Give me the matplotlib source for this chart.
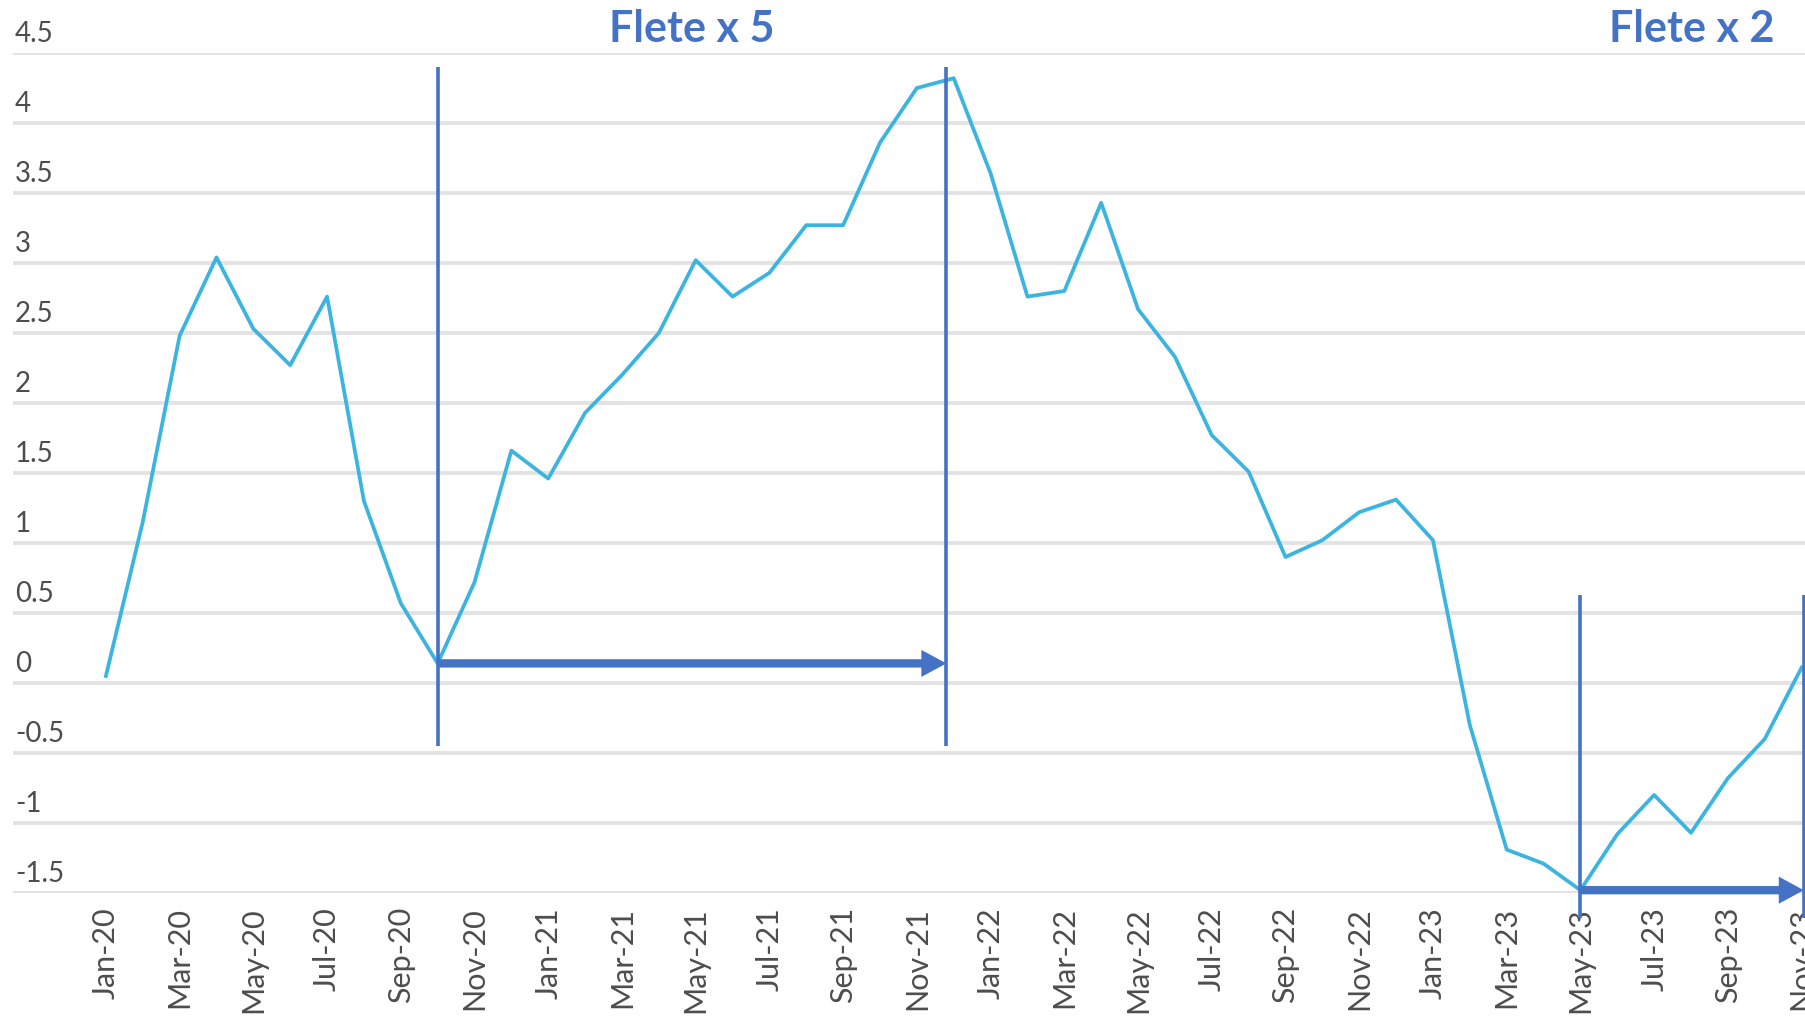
import numpy as np
import pandas as pd
import matplotlib
matplotlib.use('Agg')
import matplotlib.pyplot as plt
from matplotlib.transforms import ScaledTranslation
from matplotlib.patches import FancyArrowPatch

# monthly series, Jan-20 .. Nov-23
months = pd.date_range('2020-01-01', periods=47, freq='MS').strftime('%b-%y').tolist()
values = [0.05, 1.15, 2.48, 3.04, 2.53, 2.27, 2.76, 1.30, 0.57, 0.14,
          0.72, 1.66, 1.46, 1.93, 2.20, 2.50, 3.02, 2.76, 2.93, 3.27,
          3.27, 3.86, 4.25, 4.32, 3.64, 2.76, 2.80, 3.43, 2.67, 2.33,
          1.77, 1.51, 0.90, 1.02, 1.22, 1.31, 1.02, -0.30, -1.19, -1.29,
          -1.48, -1.08, -0.80, -1.07, -0.68, -0.40, 0.11]

y_ticks = [-1.5, -1, -0.5, 0, 0.5, 1, 1.5, 2, 2.5, 3, 3.5, 4, 4.5]
y_labels = ['-1.5', '-1', '-0.5', '0', '0.5', '1', '1.5', '2', '2.5', '3', '3.5', '4', '4.5']

# marked periods: start month index, end position, label, bracket top / bottom
period_start = [9, 40]
period_end = [22.8, 46.06]
period_label = ['Flete x 5', 'Flete x 2']
bracket_top = [4.40, 0.63]
bracket_bottom = [-0.45, -1.68]

LINE = '#3CB4E1'
MARK = '#4472C4'
GRID = '#E3E3E3'
TEXT = '#4d4d4d'

fig = plt.figure(figsize=(18.06, 10.19), dpi=100)
ax = fig.add_axes([13 / 1806, 1 - 893 / 1019, 1 - 13 / 1806, 840 / 1019])

x = np.arange(len(values))
ax.plot(x, values, color=LINE, lw=2.7, clip_on=False, zorder=3)

ax.set_xlim(-2.52, 46.12)
ax.set_ylim(-1.5, 4.5)
for s in ax.spines.values():
    s.set_visible(False)

ax.set_yticks(y_ticks)
ax.yaxis.grid(True, color=GRID, lw=2.8)
ax.set_axisbelow(True)
ax.tick_params(axis='y', length=0, labelleft=False)

# y labels sit just above their gridline, inside the plot
lift = ScaledTranslation(0.02, 0.19, fig.dpi_scale_trans)
for v, lab in zip(y_ticks, y_labels):
    ax.text(0, v, lab, transform=ax.get_yaxis_transform() + lift,
            ha='left', va='center', fontsize=20, color=TEXT, family='Lato')

ax.set_xticks(x[::2])
ax.set_xticklabels(months[::2], rotation=90, fontsize=22, color=TEXT,
                   family='Lato')
ax.tick_params(axis='x', length=0, pad=10)

for i in range(len(period_start)):
    x0, x1 = period_start[i], period_end[i]
    for xv in (x0, x1):
        ax.plot([xv, xv], [bracket_bottom[i], bracket_top[i]], color=MARK,
                lw=2.6, clip_on=False, zorder=4, solid_capstyle='butt')
    y_arrow = values[x0]
    arr = FancyArrowPatch((x0, y_arrow), (x1, y_arrow),
                          arrowstyle='simple,head_length=1.8,head_width=1.95,tail_width=0.6',
                          mutation_scale=10, color=MARK, lw=0,
                          shrinkA=0, shrinkB=0, clip_on=False, zorder=5)
    ax.add_patch(arr)
    ax.text((x0 + x1) / 2, 4.67, period_label[i], ha='center', va='center',
            fontsize=31, fontweight='bold', color=MARK, family='Lato',
            clip_on=False)

fig.savefig('out.png', dpi=100)
